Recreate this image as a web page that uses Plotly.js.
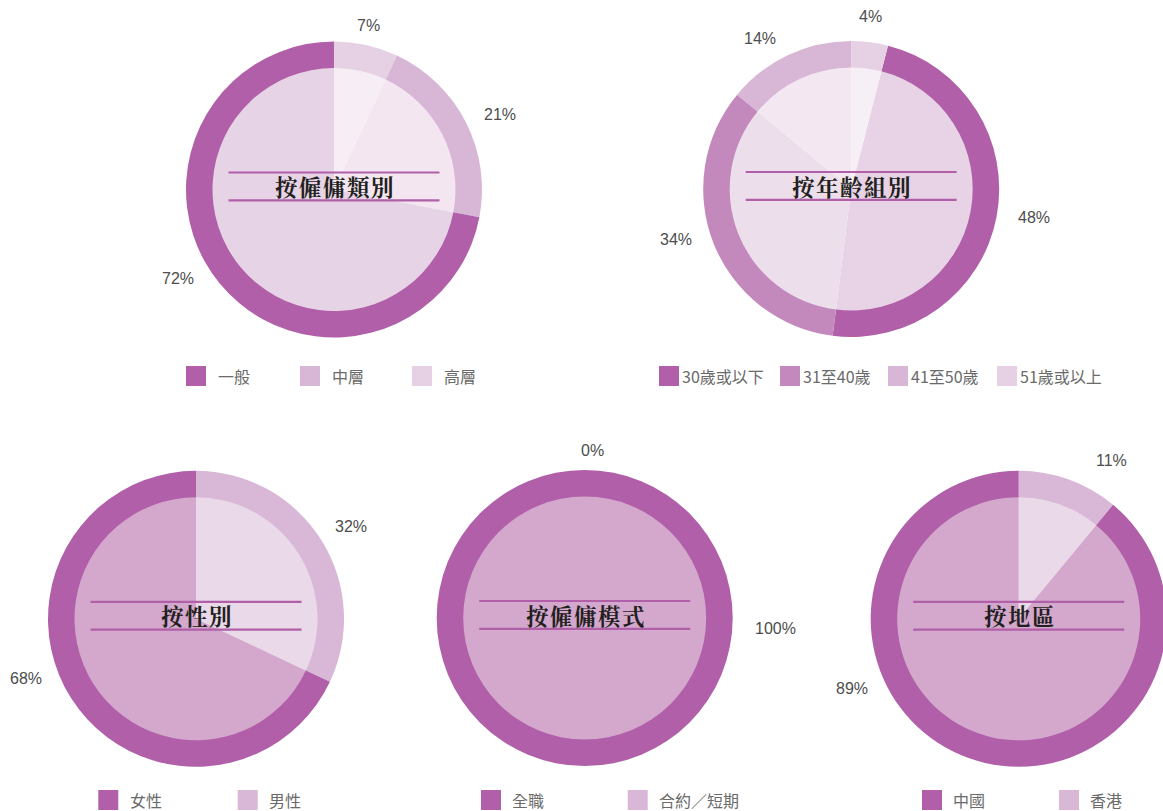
<!DOCTYPE html>
<html>
<head>
<meta charset="utf-8">
<script src="https://cdn.plot.ly/plotly-3.0.1.min.js"></script>
<style>
html,body{margin:0;padding:0;overflow:hidden;background:#fff;}
#chart{width:1170px;height:811px;}
</style>
</head>
<body>
<div id="chart"></div>
<script>
// ---------------- DATA ----------------
const chartTitles = ['按僱傭類別', '按年齡組別', '按性別', '按僱傭模式', '按地區'];

const typeLabels = ['一般', '中層', '高層'];
const typeValues = [72, 21, 7];

const ageLabels = ['30歲或以下', '31至40歲', '41至50歲', '51歲或以上'];
const ageValues = [48, 34, 14, 4];

const genderLabels = ['女性', '男性'];
const genderValues = [68, 32];

const modeLabels = ['全職', '合約／短期'];
const modeValues = [100, 0];

const regionLabels = ['中國', '香港'];
const regionValues = [89, 11];

// ---------------- STYLE / LAYOUT ----------------
const W = 1170, H = 811;
const R_OUT = 148, R_IN = 122.5, HOLE = 121.5 / 148;
const DARK = '#b05fa8';
const px = x => x / W;
const py = y => 1 - y / H;

const charts = [
  { labels: typeLabels, values: typeValues, title: chartTitles[0], cx: 334, cy: 189.5,
    reverse: true, rotation: 0,
    ring: ['#b05fa8', '#d8b6d5', '#e6d0e4'], inner: ['#e7d3e6', '#f3e6f1', '#f7eef5'],
    labelPos: [[178, 278], [500, 114], [368, 26]],
    legX: [186, 300, 412], legY: 376, legOff: 31.5 },
  { labels: ageLabels, values: ageValues, title: chartTitles[1], cx: 851.2, cy: 189,
    reverse: false, rotation: 14.4,
    ring: ['#b05fa8', '#c389bd', '#d8b6d5', '#e6d0e4'], inner: ['#e7d2e6', '#ecdeeb', '#f3e7f2', '#f7eff6'],
    labelPos: [[1034, 217.5], [676, 240], [760, 38.5], [870.5, 16]],
    legX: [659, 780, 888, 997], legY: 376, legOff: 23 },
  { labels: genderLabels, values: genderValues, title: chartTitles[2], cx: 196, cy: 618.8,
    reverse: true, rotation: 0,
    ring: ['#b05fa8', '#d9b7d6'], inner: ['#d3a8cc', '#e9d9e9'],
    labelPos: [[25.7, 678.5], [350.5, 526.5]],
    legX: [98.3, 237.7], legY: 800, legOff: 31.5 },
  { labels: modeLabels, values: modeValues, title: chartTitles[3], cx: 584.7, cy: 618,
    reverse: true, rotation: 0,
    ring: ['#b05fa8', '#d9b7d6'], inner: ['#d3a8cc', '#e9d9e9'],
    labelPos: [[775.3, 628], [592, 450]],
    legX: [481, 627.7], legY: 800, legOff: 31 },
  { labels: regionLabels, values: regionValues, title: chartTitles[4], cx: 1018.7, cy: 618.8,
    reverse: true, rotation: 0,
    ring: ['#b05fa8', '#d9b7d6'], inner: ['#d3a8cc', '#e9d9e9'],
    labelPos: [[852, 688], [1111.3, 460]],
    legX: [922, 1059], legY: 800, legOff: 31 }
];

const traces = [];
const shapes = [];
const annotations = [];

const pctFont = { family: '"Liberation Sans", Arial, sans-serif', size: 16, color: '#4d4d4d' };
const legFont = { family: '"Noto Sans CJK TC", "Noto Sans", sans-serif', size: 16, color: '#6a6a6a' };
const titleFont = { family: '"Noto Serif CJK TC", "Noto Sans CJK TC", serif', size: 22.5, color: '#231f20', weight: 700 };

charts.forEach(c => {
  const ord = c.labels.map((_, i) => i);
  if (c.reverse) ord.reverse();
  const lab = ord.map(i => c.labels[i]);
  const val = ord.map(i => c.values[i]);
  const ringCol = ord.map(i => c.ring[i]);
  const innerCol = ord.map(i => c.inner[i]);

  // inner (lighter) full pie
  traces.push({
    type: 'pie', labels: lab, values: val, sort: false, direction: 'clockwise', rotation: c.rotation,
    marker: { colors: innerCol, line: { width: 0 } },
    textinfo: 'none', hoverinfo: 'skip', showlegend: false,
    domain: { x: [px(c.cx - R_IN), px(c.cx + R_IN)], y: [py(c.cy + R_IN), py(c.cy - R_IN)] }
  });
  // outer ring
  traces.push({
    type: 'pie', labels: lab, values: val, sort: false, direction: 'clockwise', rotation: c.rotation,
    hole: HOLE,
    marker: { colors: ringCol, line: { width: 0 } },
    textinfo: 'none', hoverinfo: 'skip', showlegend: false,
    domain: { x: [px(c.cx - R_OUT), px(c.cx + R_OUT)], y: [py(c.cy + R_OUT), py(c.cy - R_OUT)] }
  });

  // percentage labels
  c.labels.forEach((l, i) => {
    annotations.push({
      xref: 'paper', yref: 'paper', x: px(c.labelPos[i][0]), y: py(c.labelPos[i][1]),
      xanchor: 'center', yanchor: 'middle', showarrow: false,
      text: c.values[i] + '%', font: pctFont, borderpad: 0, borderwidth: 0
    });
  });

  // title with lines
  annotations.push({
    xref: 'paper', yref: 'paper', x: px(c.cx + 1), y: py(c.cy - 3.5),
    xanchor: 'center', yanchor: 'middle', showarrow: false,
    text: '<span style="letter-spacing:1.5px"><b>' + c.title + '</b></span>', font: titleFont, borderpad: 0, borderwidth: 0
  });
  [-17, 10.8].forEach(dy => {
    shapes.push({
      type: 'line', xref: 'paper', yref: 'paper',
      x0: px(c.cx - 105.5), x1: px(c.cx + 105.5), y0: py(c.cy + dy), y1: py(c.cy + dy),
      line: { color: DARK, width: 2.2 }
    });
  });

  // legend
  c.labels.forEach((l, i) => {
    const sx = c.legX[i];
    shapes.push({
      type: 'rect', xref: 'paper', yref: 'paper',
      x0: px(sx), x1: px(sx + 20), y0: py(c.legY + 10), y1: py(c.legY - 10),
      fillcolor: c.ring[i], line: { width: 0 }
    });
    annotations.push({
      xref: 'paper', yref: 'paper', x: px(sx + c.legOff), y: py(c.legY),
      xanchor: 'left', yanchor: 'middle', showarrow: false,
      text: l, font: legFont, borderpad: 0, borderwidth: 0
    });
  });
});

const layout = {
  width: W, height: H,
  margin: { l: 0, r: 0, t: 0, b: 0, pad: 0 },
  paper_bgcolor: '#ffffff', plot_bgcolor: '#ffffff',
  showlegend: false,
  shapes: shapes,
  annotations: annotations
};

Plotly.newPlot('chart', traces, layout, { staticPlot: true, displayModeBar: false });
</script>
</body>
</html>
